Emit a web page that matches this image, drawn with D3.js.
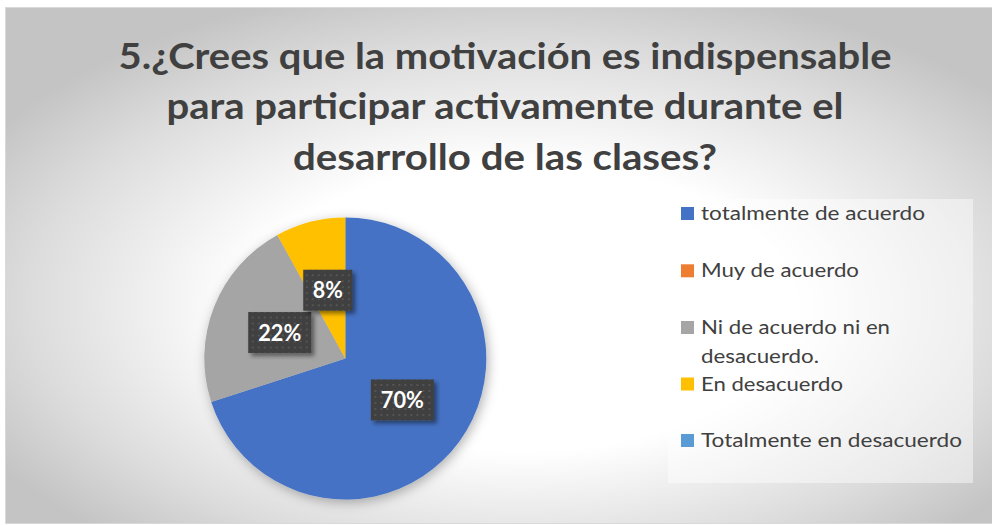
<!DOCTYPE html>
<html>
<head>
<meta charset="utf-8">
<script src="https://cdn.jsdelivr.net/npm/d3@7"></script>
<style>
  html, body { margin: 0; padding: 0; background: #ffffff; }
  svg { display: block; }
</style>
</head>
<body>
<svg id="chart" width="992" height="525"></svg>
<script>
// ---- Data ----
const titleLines = [
  "5.¿Crees que la motivación es indispensable",
  "para participar activamente durante el",
  "desarrollo de las clases?"
];
const categories = [
  "totalmente de acuerdo",
  "Muy de acuerdo",
  "Ni de acuerdo ni en desacuerdo.",
  "En desacuerdo",
  "Totalmente en desacuerdo"
];
const values = [70, 0, 22, 8, 0];
const colors = ["#4472c4", "#ed7d31", "#a5a5a5", "#ffc000", "#5b9bd5"];

// ---- Layout ----
const W = 992, H = 525;
const svg = d3.select("#chart");
const FONT = "Lato, 'Open Sans', 'Liberation Sans', sans-serif";
const defs = svg.append("defs");

const bg = defs.append("radialGradient").attr("id", "bgGrad")
  .attr("cx", 0.52).attr("cy", 0.56).attr("r", 0.62).attr("fx", 0.52).attr("fy", 0.6);
bg.append("stop").attr("offset", "0").attr("stop-color", "#ffffff");
bg.append("stop").attr("offset", "0.45").attr("stop-color", "#ffffff");
bg.append("stop").attr("offset", "0.8").attr("stop-color", "#dcdcdc");
bg.append("stop").attr("offset", "1").attr("stop-color", "#c4c4c4");

const pieShadow = defs.append("filter").attr("id", "pieShadow")
  .attr("x", "-20%").attr("y", "-20%").attr("width", "140%").attr("height", "140%");
pieShadow.append("feDropShadow").attr("dx", 2).attr("dy", 3).attr("stdDeviation", 6)
  .attr("flood-color", "#000").attr("flood-opacity", 0.3);

const lblShadow = defs.append("filter").attr("id", "lblShadow")
  .attr("x", "-30%").attr("y", "-30%").attr("width", "160%").attr("height", "160%");
lblShadow.append("feDropShadow").attr("dx", 3).attr("dy", 3).attr("stdDeviation", 2)
  .attr("flood-color", "#000").attr("flood-opacity", 0.45);

const pat = defs.append("pattern").attr("id", "dots").attr("patternUnits", "userSpaceOnUse")
  .attr("width", 6).attr("height", 6);
pat.append("rect").attr("width", 6).attr("height", 6).attr("fill", "#3f3f3f");
pat.append("rect").attr("x", 2).attr("y", 2).attr("width", 2).attr("height", 2).attr("fill", "#545454");

// chart area
svg.append("rect").attr("x", 5.5).attr("y", 7.5).attr("width", 990).attr("height", 516)
  .attr("fill", "url(#bgGrad)").attr("stroke", "#d9d9d9").attr("stroke-width", 1);

function fit(sel, w) {
  sel.attr("textLength", w).attr("lengthAdjust", "spacingAndGlyphs");
}

// ---- Title ----
const titleBaselines = [68.5, 119, 170];
const titleWidths = [773, 677, 424];
titleLines.forEach((t, i) => {
  const el = svg.append("text")
    .attr("x", 505).attr("y", titleBaselines[i])
    .attr("text-anchor", "middle")
    .attr("font-family", FONT).attr("font-weight", "bold").attr("font-size", 35.5)
    .attr("fill", "#404040").text(t);
  fit(el, titleWidths[i]);
});

// ---- Pie ----
const cx = 345.3, cy = 358.5, R = 141;
const pie = d3.pie().sort(null).value(d => d.v).startAngle(0).endAngle(2 * Math.PI);
const data = pie(values.map((v, i) => ({ v, i })));
const arc = d3.arc().innerRadius(0).outerRadius(R);
const labelArc = d3.arc().innerRadius(R / 2).outerRadius(R / 2);
const color = d3.scaleOrdinal().domain(d3.range(categories.length)).range(colors);

const g = svg.append("g").attr("transform", `translate(${cx},${cy})`);
g.append("g").attr("filter", "url(#pieShadow)")
  .selectAll("path").data(data).join("path")
  .attr("d", arc).attr("fill", d => color(d.data.i));

const total = d3.sum(values);
const lbls = g.selectAll("g.lbl").data(data.filter(d => d.data.v > 0)).join("g")
  .attr("class", "lbl")
  .attr("transform", d => `translate(${labelArc.centroid(d)})`);
lbls.each(function(d) {
  const sel = d3.select(this);
  const txt = Math.round(d.data.v / total * 100) + "%";
  const w = txt.length === 2 ? 49 : 63, h = 41;
  sel.append("rect").attr("x", -w / 2).attr("y", -h / 2).attr("width", w).attr("height", h)
    .attr("fill", "url(#dots)").attr("filter", "url(#lblShadow)");
  const t = sel.append("text").attr("text-anchor", "middle").attr("y", 8)
    .attr("font-family", FONT).attr("font-weight", "bold").attr("font-size", 22.5)
    .attr("fill", "#ffffff").text(txt);
  fit(t, txt.length === 2 ? 30 : 43);
});

// ---- Legend ----
svg.append("rect").attr("x", 668).attr("y", 199).attr("width", 305).attr("height", 284)
  .attr("fill", "#ffffff").attr("fill-opacity", 0.45);

const legendRows = [
  { lines: ["totalmente de acuerdo"], base: 220, widths: [224] },
  { lines: ["Muy de acuerdo"], base: 277.3, widths: [158] },
  { lines: ["Ni de acuerdo ni en", "desacuerdo."], base: 334, widths: [189, 118] },
  { lines: ["En desacuerdo"], base: 390.5, widths: [142] },
  { lines: ["Totalmente en desacuerdo"], base: 447, widths: [261] }
];
const lg = svg.append("g");
categories.forEach((c, i) => {
  const row = legendRows[i];
  lg.append("rect").attr("x", 681).attr("y", row.base - 13).attr("width", 13).attr("height", 13)
    .attr("fill", color(i));
  row.lines.forEach((ln, j) => {
    const t = lg.append("text").attr("x", 701).attr("y", row.base + j * 29.3)
      .attr("font-family", FONT).attr("font-size", 19.5).attr("fill", "#404040").text(ln);
    fit(t, row.widths[j]);
  });
});
</script>
</body>
</html>
